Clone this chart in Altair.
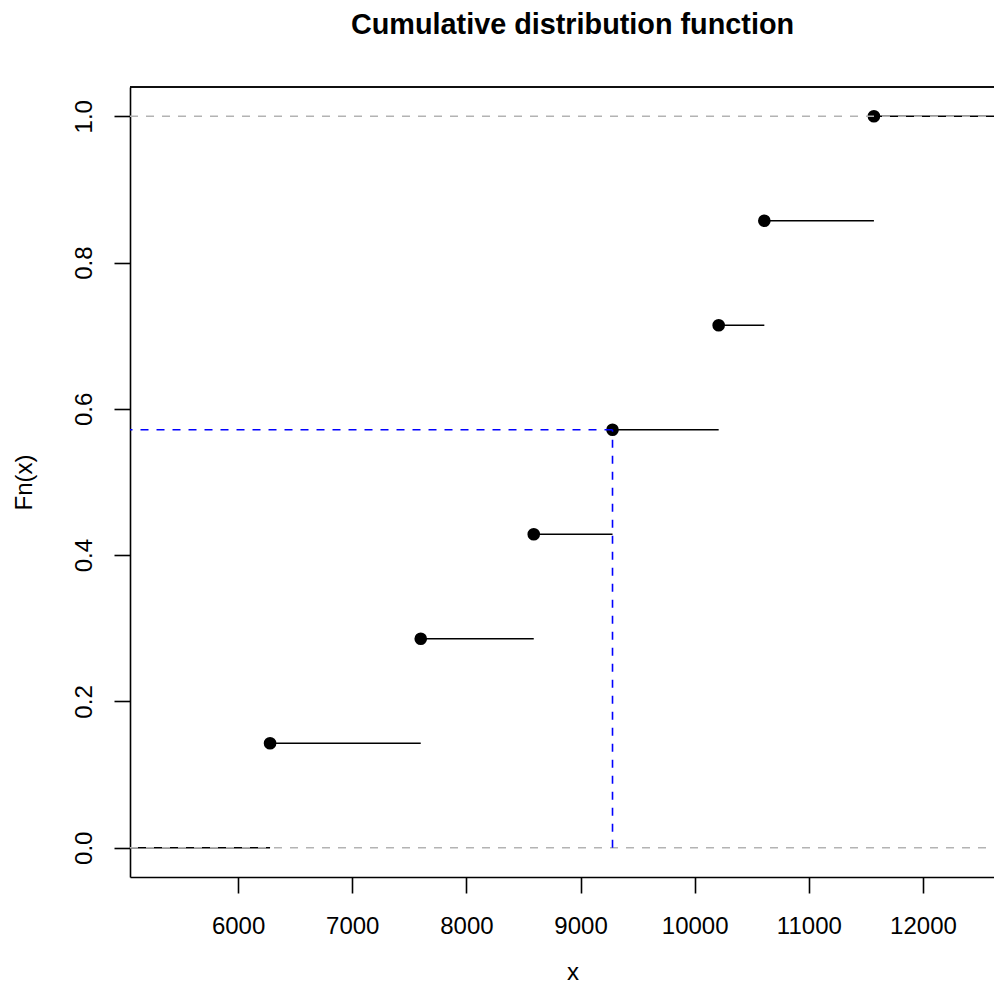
import altair as alt
import pandas as pd

knots = [6280, 7600, 8590, 9280, 10210, 10610, 11570]
probs = [1/7, 2/7, 3/7, 4/7, 5/7, 6/7, 7/7]
x_lo, x_hi = 5053, 12622          # visible x domain
y_lo, y_hi = -0.04, 1.04
x_ticks = [6000, 7000, 8000, 9000, 10000, 11000, 12000]
y_ticks = [0.0, 0.2, 0.4, 0.6, 0.8, 1.0]
ref_levels = [0.0, 1.0]
q_x = 9280
q_p = 4/7
main_title = "Cumulative distribution function"

W, H = 864, 790
FONT = "Liberation Sans"

# step segments: from each knot to the next (first from left edge, last to right edge)
seg_x = [x_lo] + knots
seg_x2 = knots + [x_hi]
seg_y = [0.0] + probs
segs = pd.DataFrame({"x": seg_x, "x2": seg_x2, "y": seg_y})
pts = pd.DataFrame({"x": knots, "y": probs})
refs = pd.DataFrame({"y": ref_levels})
quant = pd.DataFrame({"q": [q_x], "p": [q_p], "zero": [0.0]})
ttl = pd.DataFrame({"t": [main_title]})

xs = alt.Scale(domain=[x_lo, x_hi], nice=False, zero=False)
ys = alt.Scale(domain=[y_lo, y_hi], nice=False, zero=False)

x_axis = alt.Axis(
    values=x_ticks, format="d", title="x", grid=False,
    tickSize=16, labelPadding=40, labelBaseline="alphabetic",
    titleX=442.5, titleY=102, titleAlign="center", titleBaseline="alphabetic",
    titleAngle=0,
)
y_axis = alt.Axis(
    values=y_ticks, format=".1f", title="Fn(x)", grid=False,
    tickSize=16, labelPadding=23, labelAngle=270, labelAlign="center",
    labelBaseline="alphabetic",
    titleX=-99, titleY=395, titleAngle=270, titleAlign="center",
    titleBaseline="alphabetic",
)

base_seg = alt.Chart(segs).mark_rule(color="black", strokeWidth=1.6, clip=True).encode(
    x=alt.X("x:Q", scale=xs, axis=x_axis),
    x2="x2:Q",
    y=alt.Y("y:Q", scale=ys, axis=y_axis),
)

points = alt.Chart(pts).mark_circle(color="black", opacity=1, size=160).encode(
    x=alt.X("x:Q", scale=xs),
    y=alt.Y("y:Q", scale=ys),
)

gray = alt.Chart(refs).mark_rule(color="#B3B3B3", strokeWidth=1.6, strokeDash=[8, 8]).encode(
    x=alt.value(0), x2=alt.value(W),
    y=alt.Y("y:Q", scale=ys),
)

blue_h = alt.Chart(quant).mark_rule(color="#0000FF", strokeWidth=1.6, strokeDash=[8, 8]).encode(
    x=alt.X("q:Q", scale=xs), x2=alt.value(0),
    y=alt.Y("p:Q", scale=ys),
)
blue_v = alt.Chart(quant).mark_rule(color="#0000FF", strokeWidth=1.6, strokeDash=[8, 8]).encode(
    x=alt.X("q:Q", scale=xs),
    y=alt.Y("zero:Q", scale=ys), y2="p:Q",
)

top_border = alt.Chart(refs).mark_rule(color="black", strokeWidth=1.6).encode(
    x=alt.value(0), x2=alt.value(W), y=alt.value(0),
)

title_text = alt.Chart(ttl).mark_text(
    font=FONT, fontSize=28.8, fontWeight="bold", color="black",
    align="center", baseline="alphabetic",
).encode(
    x=alt.value(442.5), y=alt.value(-53.5), text="t:N",
)

chart = alt.layer(base_seg, points, gray, blue_h, blue_v, top_border, title_text).properties(
    width=W, height=H,
    autosize=alt.AutoSizeParams(type="none"),
    padding={"left": 122, "top": 79, "right": 0, "bottom": 109},
).configure_view(stroke=None).configure_axis(
    labelFont=FONT, titleFont=FONT, labelFontSize=24, titleFontSize=24,
    labelColor="black", titleColor="black", titleFontWeight="normal",
    domainColor="black", tickColor="black", domainWidth=1.6, tickWidth=1.6,
    labelOverlap=False,
)

chart.save("out.html", embed_options={"renderer": "svg", "actions": False})
